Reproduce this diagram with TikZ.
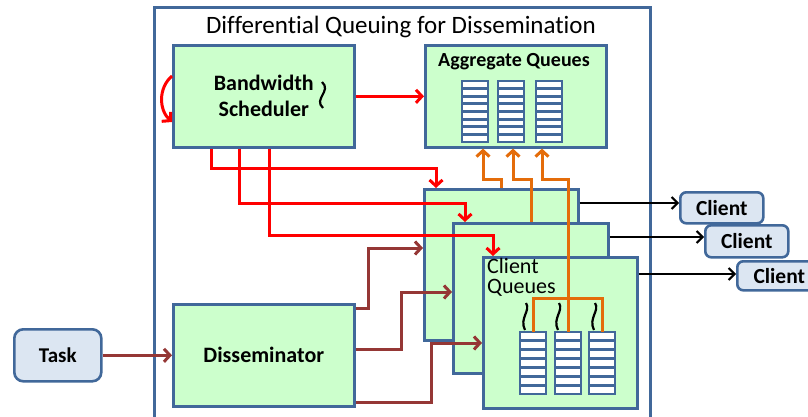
\documentclass[tikz,border=0pt]{standalone}
\usepackage{fontspec}
\setmainfont{Carlito}[Ligatures=NoCommon]
\usetikzlibrary{arrows.meta}
\definecolor{grn}{HTML}{CCFFCC}
\definecolor{bord}{HTML}{41689A}
\definecolor{clientfill}{HTML}{DCE6F2}
\definecolor{redln}{HTML}{FF0000}
\definecolor{orln}{HTML}{E46C0A}
\definecolor{brln}{HTML}{953735}

\begin{document}
\begin{tikzpicture}[x=1pt,y=-1pt,
  panel/.style={draw=bord, fill=grn, line width=2.6pt, anchor=north west, inner sep=0pt},
  clientbox/.style={draw=bord, fill=clientfill, line width=2.6pt, rounded corners=6pt,
    anchor=north west, inner sep=0pt, font=\bfseries\fontsize{21.5}{24}\selectfont},
  slot/.style={draw=bord, fill=white, line width=2.8pt},
  barb/.style={-{Straight Barb[length=6pt,width=13pt]}},
  redarrow/.style={draw=redln, line width=3pt, barb},
  orarrow/.style={draw=orln, line width=3pt, barb},
  brarrow/.style={draw=brln, line width=3pt, barb},
  blkarrow/.style={draw=black, line width=2pt, -{Straight Barb[length=6pt,width=12pt]}},
  squig/.style={draw=black, line width=2.2pt},
]
\useasboundingbox (0,0) rectangle (808,417);
\clip (0,0) rectangle (808,417);

% outer frame
\draw[draw=bord, line width=3pt] (154,8) rectangle (650,440);
\node[font=\fontsize{25}{28}\selectfont] (title) at (401,27) {Differential Queuing for Dissemination};

% bandwidth scheduler
\node[panel, minimum width=181pt, minimum height=102pt, align=center,
  font=\bfseries\fontsize{22}{26}\selectfont] (bs) at (172,44) {Bandwidth\\Scheduler};
\draw[squig] (322,82) .. controls (332,91) and (313,99) .. (323,108);

% aggregate queues
\node[panel, minimum width=181pt, minimum height=102pt] (aq) at (424,44) {};
\node[font=\bfseries\fontsize{20}{22}\selectfont] (aqlabel) at (514,62) {Aggregate Queues};
\foreach \cx in {462,498,536}{
  \foreach \k in {0,...,7}{
    \draw[slot] (\cx,{81+\k*7.625}) rectangle ++(26,7.625);
  }
}

% disseminator and task
\node[panel, minimum width=181pt, minimum height=102pt,
  font=\bfseries\fontsize{22}{24}\selectfont] (dis) at (172,303) {Disseminator};
\node[clientbox, rounded corners=9pt, minimum width=87pt, minimum height=52pt,
  font=\bfseries\fontsize{21}{24}\selectfont] (task) at (13,328) {Task};

% stacked client queue panels
\node[panel, minimum width=154pt, minimum height=151pt] (cq1) at (423,188) {};
\node[panel, minimum width=155pt, minimum height=150pt] (cq2) at (452,222) {};
\node[panel, minimum width=154pt, minimum height=151pt] (cq3) at (482,256) {};
\node[anchor=north west, inner sep=0pt, align=left,
  font=\fontsize{22}{20}\selectfont] (cqlabel) at (487,258) {Client\\Queues};
\foreach \cx/\nm in {520/qa,555/qb,589/qc}{
  \foreach \k in {0,...,6}{
    \draw[slot] (\cx,{332+\k*8.857}) rectangle ++(26,8.857);
  }
  \coordinate (\nm) at ({\cx+13},332);
}
\foreach \sx in {525,558,594}{
  \draw[squig] (\sx+1,303) .. controls (\sx+6,311) and (\sx-6,318) .. (\sx,330);
}

% clients
\node[clientbox, minimum width=83pt, minimum height=31pt] (c1) at (679,191) {Client};
\node[clientbox, minimum width=83pt, minimum height=32pt] (c2) at (704,224) {Client};
\node[clientbox, minimum width=84pt, minimum height=29pt] (c3) at (736,260) {Client};

% scheduler signals
\draw[redarrow] (bs.east) -- (aq.west);
\draw[redarrow] (bs.west |- 0,76) .. controls (158,88) and (159,110) .. (bs.west |- 0,122);
\draw[redarrow] (bs.south -| 211,0) |- (436,168) -- (cq1.north -| 436,0);
\draw[redarrow] (bs.south -| 239,0) |- (465,203) -- (cq2.north -| 465,0);
\draw[redarrow] (bs.south -| 269,0) |- (493,235) -- (cq3.north -| 493,0);

% task flow
\draw[brarrow] (task) -- (dis);
\draw[brarrow] (dis.east |- 0,308) -| (368,248) -- (cq1.west |- 0,248);
\draw[brarrow] (dis.east |- 0,349) -| (401,292) -- (cq2.west |- 0,292);
\draw[brarrow] (dis.east |- 0,402) -| (431,343) -- (cq3.west |- 0,343);

% aggregation into the shared queues
\draw[orln, line width=3pt] (qa) |- (qc |- 0,298) -- (qc);
\draw[orarrow] (qb) |- (542,179) -- (aq.south -| 542,0);
\draw[orarrow] (cq2.north -| 531,0) |- (513,179) -- (aq.south -| 513,0);
\draw[orarrow] (cq1.north -| 501,0) |- (483,179) -- (aq.south -| 483,0);

% delivery to clients
\draw[blkarrow] (cq1.east |- 0,203) -- (c1.west |- 0,203);
\draw[blkarrow] (cq2.east |- 0,237) -- (c2.west |- 0,237);
\draw[blkarrow] (cq3.east |- 0,274) -- (c3.west |- 0,274);
\end{tikzpicture}
\end{document}
